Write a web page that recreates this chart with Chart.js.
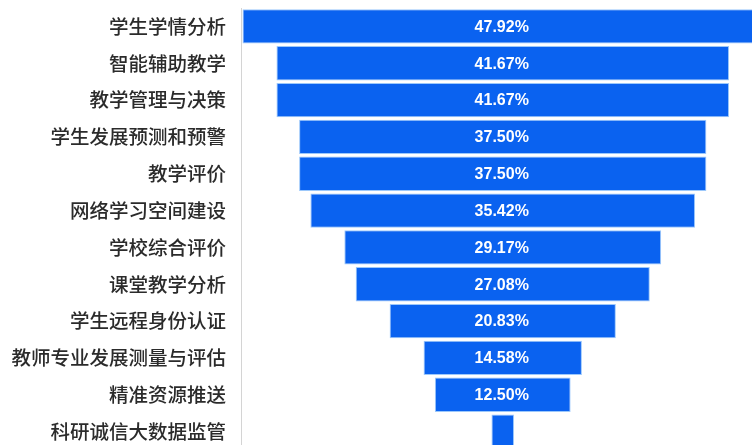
<!DOCTYPE html>
<html>
<head>
<meta charset="utf-8">
<script src="https://cdn.jsdelivr.net/npm/chart.js@4"></script>
<style>
  html, body { margin: 0; padding: 0; background: #fff; overflow: hidden; }
  #wrap { width: 752px; height: 450px; position: relative; }
</style>
</head>
<body>
<div id="wrap"><canvas id="myChart"></canvas></div>
<script>
// categorias y valores (%)
const categorias = [
  "学生学情分析",
  "智能辅助教学",
  "教学管理与决策",
  "学生发展预测和预警",
  "教学评价",
  "网络学习空间建设",
  "学校综合评价",
  "课堂教学分析",
  "学生远程身份认证",
  "教师专业发展测量与评估",
  "精准资源推送",
  "科研诚信大数据监管",
];
const valores = [47.92, 41.67, 41.67, 37.5, 37.5, 35.42, 29.17, 27.08, 20.83, 14.58, 12.5, 2.08];
const centro = 50;

// barras flotantes centradas -> embudo
const barras = valores.map((v) => [centro - v / 2, centro + v / 2]);

const etiquetasPlugin = {
  id: "etiquetas",
  afterDatasetsDraw(chart) {
    const ctx = chart.ctx;
    const meta = chart.getDatasetMeta(0);
    ctx.save();
    ctx.fillStyle = "#ffffff";
    ctx.font = "600 16px 'Liberation Sans', Arial, sans-serif";
    ctx.textAlign = "center";
    ctx.textBaseline = "middle";
    meta.data.forEach((bar, i) => {
      // la ultima barra no lleva etiqueta
      if (valores[i] < 5) return;
      ctx.fillText(valores[i].toFixed(2) + "%", chart.scales.x.getPixelForValue(centro) - 1, bar.y + 1);
    });
    ctx.restore();
  },
};

const ctx = document.getElementById("myChart");
new Chart(ctx, {
  type: "bar",
  data: {
    labels: categorias,
    datasets: [
      {
        data: barras,
        backgroundColor: "#0a62f0",
        borderColor: "#9cc8fb",
        borderWidth: 1,
        borderSkipped: false,
        barPercentage: 0.93,
        categoryPercentage: 1,
      },
    ],
  },
  options: {
    indexAxis: "y",
    responsive: true,
    maintainAspectRatio: false,
    animation: false,
    layout: { padding: { top: 8, left: 0, right: 0, bottom: 0 } },
    plugins: {
      legend: { display: false },
      tooltip: { enabled: false },
    },
    scales: {
      x: {
        display: false,
        min: 25.9,
        max: 72.95,
      },
      y: {
        grid: { display: false, drawTicks: false },
        border: { display: true, color: "#d4d4d4", width: 1 },
        ticks: {
          color: "#2b2b2b",
          padding: 15,
          font: { family: "'Noto Sans CJK SC', sans-serif", size: 19.5, weight: "500" },
        },
        afterFit: (s) => {
          s.width = 241;
          s.paddingTop = 0;
          s.paddingBottom = 0;
        },
      },
    },
  },
  plugins: [etiquetasPlugin],
});
</script>
</body>
</html>
